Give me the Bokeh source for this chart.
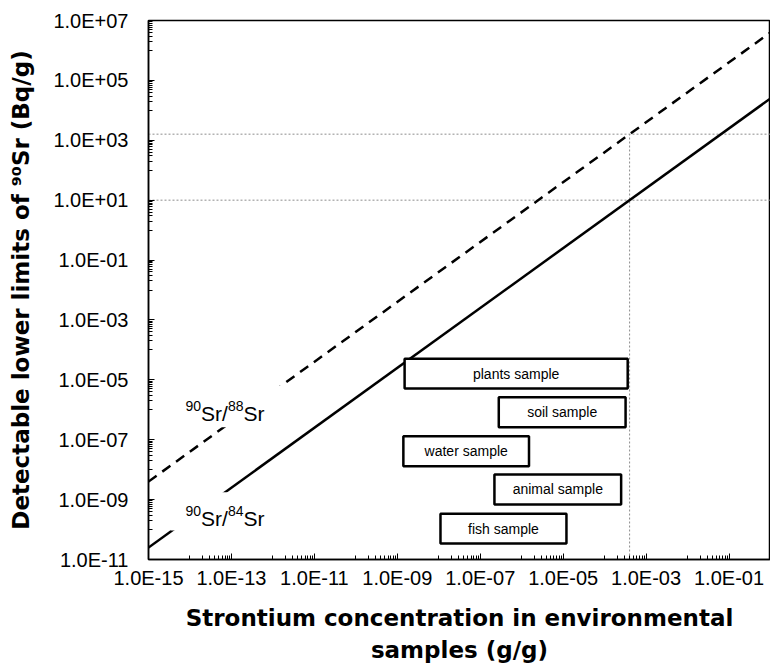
from bokeh.plotting import figure
from bokeh.models import FixedTicker, CustomJSTickFormatter, Label, Range1d, ColumnDataSource
from bokeh.embed import file_html
from bokeh.resources import INLINE
from bokeh.core.properties import value

# ---- data -------------------------------------------------------------
x_line = [1e-15, 1.0]                 # Sr concentration (g/g)
sr84_limit = [2.5e-11, 2.5e4]         # 90Sr/84Sr detection limit (Bq/g)
sr88_limit = [4.0e-9, 4.0e6]          # 90Sr/88Sr detection limit (Bq/g)

ref_x = 4.0e-4                        # dotted guide: concentration
ref_y_84 = 10.0                       # dotted guide: 84Sr limit
ref_y_88 = 1.6e3                      # dotted guide: 88Sr limit

sample_names = ["plants sample", "soil sample", "water sample", "animal sample", "fish sample"]
sample_min = [1.5e-9, 2.8e-7, 1.4e-9, 2.2e-7, 1.1e-8]
sample_max = [3.6e-4, 3.2e-4, 1.5e-6, 2.5e-4, 1.2e-5]
sample_top = [5.1e-5, 2.6e-6, 1.3e-7, 6.9e-9, 3.4e-10]
sample_bottom = [5.1e-6, 2.6e-7, 1.3e-8, 6.9e-10, 3.4e-11]

line_label_sup = [["90", "88"], ["90", "84"]]
line_label_x = 7.8e-15
line_label_y = [7.5e-7, 2.33e-10]
label_bg_left = [6.0e-15, 3.4e-15]
label_bg_right = [2.0e-12, 1.5e-12]
label_bg_top = [6.5e-6, 1.75e-9]
label_bg_bottom = [2.6e-7, 9.3e-11]

x_title = "Strontium concentration in environmental\nsamples (g/g)"
y_title = "Detectable lower limits of \u2079\u2070Sr (Bq/g)"

x_ticks = [1e-15, 1e-13, 1e-11, 1e-9, 1e-7, 1e-5, 1e-3, 1e-1]
x_tick_labels = ["1.0E-15", "1.0E-13", "1.0E-11", "1.0E-09", "1.0E-07", "1.0E-05", "1.0E-03", "1.0E-01"]
y_ticks = [1e-11, 1e-9, 1e-7, 1e-5, 1e-3, 1e-1, 1e1, 1e3, 1e5, 1e7]
y_tick_labels = ["1.0E-11", "1.0E-09", "1.0E-07", "1.0E-05", "1.0E-03", "1.0E-01",
                 "1.0E+01", "1.0E+03", "1.0E+05", "1.0E+07"]

x_minor = [m * 10.0 ** d for d in range(-14, 0, 2) for m in range(1, 10)]
y_minor = [m * 10.0 ** d for d in range(-10, 7, 2) for m in range(1, 10)]

# ---- figure -----------------------------------------------------------
p = figure(width=770, height=666, x_axis_type="log", y_axis_type="log",
           x_range=Range1d(1e-15, 1.0), y_range=Range1d(1e-11, 1e7),
           output_backend="svg", toolbar_location=None,
           min_border_left=148, min_border_right=0, min_border_top=20, min_border_bottom=107)
p.grid.visible = False
p.background_fill_color = "white"
p.border_fill_color = "white"
p.outline_line_color = "black"
p.outline_line_width = 1.5

fmt_code = """
let best = 0, bd = Infinity;
for (let i = 0; i < vals.length; i++) {
  const d = Math.abs(Math.log10(vals[i]) - Math.log10(tick));
  if (d < bd) { bd = d; best = i; }
}
return labs[best];
"""
p.xaxis.ticker = FixedTicker(ticks=x_ticks, minor_ticks=x_minor)
p.yaxis.ticker = FixedTicker(ticks=y_ticks, minor_ticks=y_minor)
p.xaxis.formatter = CustomJSTickFormatter(args=dict(vals=x_ticks, labs=x_tick_labels), code=fmt_code)
p.yaxis.formatter = CustomJSTickFormatter(args=dict(vals=y_ticks, labs=y_tick_labels), code=fmt_code)

for ax in (p.xaxis[0], p.yaxis[0]):
    ax.axis_line_color = "black"
    ax.axis_line_width = 1.5
    ax.major_tick_in = 6
    ax.major_tick_out = 0
    ax.minor_tick_in = 4
    ax.minor_tick_out = 0
    ax.major_tick_line_color = "black"
    ax.minor_tick_line_color = "black"
    ax.major_label_text_font = "Liberation Sans"
    ax.major_label_text_font_size = "20px"
    ax.major_label_text_color = "black"
    ax.axis_label_text_font = "DejaVu Sans"
    ax.axis_label_text_font_style = "bold"
    ax.axis_label_text_font_size = "23px"
    ax.axis_label_text_color = "black"

p.xaxis.major_label_standoff = 7
p.xaxis.axis_label = x_title
p.xaxis.axis_label_standoff = 13
p.xaxis.axis_label_text_line_height = 1.25
p.yaxis.major_label_standoff = 20
p.yaxis.axis_label = y_title
p.yaxis.axis_label_standoff = 16

# dotted guides
p.line([x_line[0], x_line[1]], [ref_y_84, ref_y_84], line_color="#8c8c8c", line_width=1, line_dash="2 2")
p.line([x_line[0], x_line[1]], [ref_y_88, ref_y_88], line_color="#8c8c8c", line_width=1, line_dash="2 2")
p.line([ref_x, ref_x], [1e-11, ref_y_88], line_color="#8c8c8c", line_width=1, line_dash="2 2")

# main lines
p.line(x_line, sr88_limit, line_color="black", line_width=2.5, line_dash="10 7")
p.line(x_line, sr84_limit, line_color="black", line_width=2.5)

# white backgrounds behind the line labels
p.quad(left=label_bg_left, right=label_bg_right, top=label_bg_top, bottom=label_bg_bottom,
       fill_color="white", line_color=None)

# sample boxes
src = ColumnDataSource(dict(
    left=sample_min, right=sample_max, top=sample_top, bottom=sample_bottom,
    xc=[(a * b) ** 0.5 for a, b in zip(sample_min, sample_max)],
    yc=[(a * b) ** 0.5 for a, b in zip(sample_top, sample_bottom)],
    name=sample_names))
p.quad(left="left", right="right", top="top", bottom="bottom", source=src,
       fill_color="white", line_color="black", line_width=2.5)
p.text(x="xc", y="yc", text="name", source=src, text_font=value("Liberation Sans"),
       text_font_size=value("14px"), text_align="center", text_baseline="middle", text_color="black")

# line labels: 90Sr/88Sr and 90Sr/84Sr with superscript mass numbers
sup_raise = 10 ** (8 / 29.94)   # 8 px upward on the log axis
for sups, yb in zip(line_label_sup, line_label_y):
    parts = [(sups[0], 0.0, True), ("Sr/", 15.6, False), (sups[1], 42.4, True), ("Sr", 58.0, False)]
    for txt, dx, is_sup in parts:
        p.add_layout(Label(x=line_label_x, y=yb * sup_raise if is_sup else yb, x_offset=dx, text=txt,
                           text_font="Liberation Sans", text_font_size="14px" if is_sup else "21px",
                           text_color="black", text_baseline="alphabetic", text_align="left"))

open("out.html", "w").write(file_html(p, INLINE))
